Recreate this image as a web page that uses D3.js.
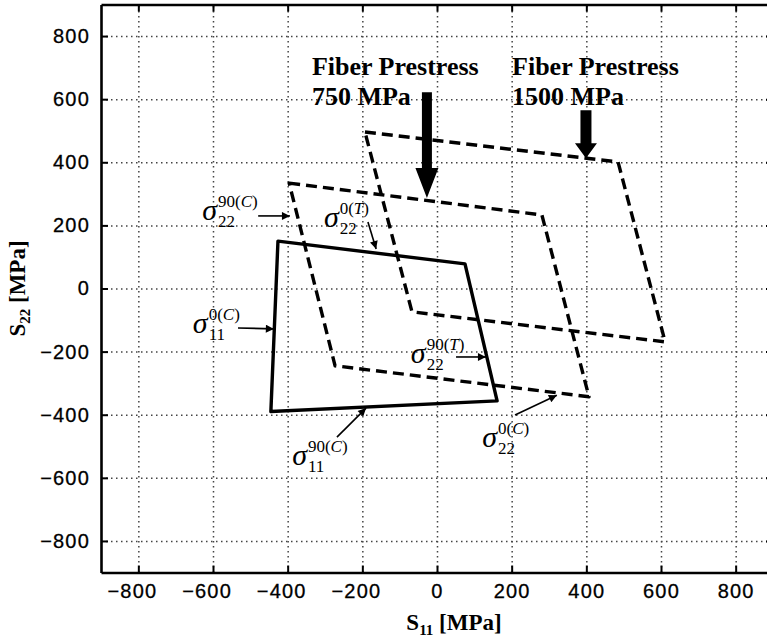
<!DOCTYPE html>
<html>
<head>
<meta charset="utf-8">
<script src="https://cdn.jsdelivr.net/npm/d3@7"></script>
<style>
  html, body { margin: 0; padding: 0; background: #fff; }
  svg { display: block; }
</style>
</head>
<body>
<svg id="chart" width="767" height="638"></svg>
<script>
// Failure envelopes in the S11–S22 stress plane (MPa)
const tickValues = [-800, -600, -400, -200, 0, 200, 400, 600, 800];
const axisDomain = [-900, 900];

// Envelope corners: [S11, S22]
const envelopeNoPrestress = [[-426, 150], [75, 78], [161, -356], [-445, -390]];
const envelope750 = [[-396, 334], [281, 233], [407, -343], [-273, -245]];
const envelope1500 = [[-193, 496], [485, 401], [611, -169], [-67, -74]];

// Prestress captions and the envelope points their arrows mark
const prestressTitles = ["Fiber Prestress", "Fiber Prestress"];
const prestressLevels = ["750 MPa", "1500 MPa"];
const prestressTips = [[-27, 287], [399, 413]];

// Failure-mode labels: subscript, superscript
const modeSubs = ["22", "22", "11", "22", "11", "22"];
const modeSups = ["90(C)", "0(T)", "0(C)", "90(T)", "90(C)", "0(C)"];

const svg = d3.select("#chart");
const x = d3.scaleLinear().domain(axisDomain).range([101, 773]);
const y = d3.scaleLinear().domain(axisDomain).range([572.5, 4.5]);

const plotL = x(axisDomain[0]), plotR = x(axisDomain[1]);
const plotT = y(axisDomain[1]), plotB = y(axisDomain[0]);

// Dotted grid
const grid = svg.append("g").attr("class", "grid");
grid.append("g")
  .attr("transform", `translate(0,${plotB})`)
  .call(d3.axisBottom(x).tickValues(tickValues).tickSize(-(plotB - plotT)).tickFormat(""))
  .call(g => g.select(".domain").remove());
grid.append("g")
  .attr("transform", `translate(${plotL},0)`)
  .call(d3.axisLeft(y).tickValues(tickValues).tickSize(-(plotR - plotL)).tickFormat(""))
  .call(g => g.select(".domain").remove());
grid.selectAll("line")
  .attr("stroke", "#444")
  .attr("stroke-width", 1.5)
  .attr("stroke-dasharray", "1.5,3.5");

// Envelopes
const line = d3.line().x(d => x(d[0])).y(d => y(d[1])).curve(d3.curveLinearClosed);
const env = svg.append("g").attr("fill", "none").attr("stroke", "#000").attr("stroke-linejoin", "round");
env.append("path").datum(envelope750).attr("d", line)
  .attr("stroke-width", 3.4).attr("stroke-dasharray", "11,6");
env.append("path").datum(envelope1500).attr("d", line)
  .attr("stroke-width", 3.4).attr("stroke-dasharray", "11,6");
env.append("path").datum(envelopeNoPrestress).attr("d", line)
  .attr("stroke-width", 3.4);

// Axes frame with inward ticks
const tickFont = "'Liberation Sans', Arial, sans-serif";
const axes = svg.append("g");
const axB = axes.append("g").attr("transform", `translate(0,${plotB})`)
  .call(d3.axisBottom(x).tickValues(tickValues).tickSize(-7).tickSizeOuter(0).tickPadding(11)
    .tickFormat(d => d < 0 ? "\u2212" + Math.abs(d) : String(d)));
const axL = axes.append("g").attr("transform", `translate(${plotL},0)`)
  .call(d3.axisLeft(y).tickValues(tickValues).tickSize(-7).tickSizeOuter(0).tickPadding(11)
    .tickFormat(d => d < 0 ? "\u2212" + Math.abs(d) : String(d)));
axes.append("g").attr("transform", `translate(0,${plotT})`)
  .call(d3.axisTop(x).tickValues(tickValues).tickSize(-7).tickSizeOuter(0).tickFormat(""));
axes.append("g").attr("transform", `translate(${plotR},0)`)
  .call(d3.axisRight(y).tickValues(tickValues).tickSize(-7).tickSizeOuter(0).tickFormat(""));
axes.selectAll(".domain").attr("stroke", "#000").attr("stroke-width", 2.6);
axes.selectAll(".tick line").attr("stroke", "#000").attr("stroke-width", 2);
axes.selectAll("text")
  .attr("font-family", tickFont).attr("font-size", 20).attr("letter-spacing", 1.2)
  .attr("fill", "#000").attr("stroke", "#000").attr("stroke-width", 0.3);

// Negative x labels: centre the digits on the tick, minus sign hangs to the left
axB.selectAll(".tick text").each(function(d) {
  if (d < 0) {
    const t = d3.select(this);
    t.text(String(Math.abs(d)));
    const w = this.getComputedTextLength();
    t.text("\u2212" + Math.abs(d)).attr("text-anchor", "end").attr("x", w / 2);
  }
});

// Axis titles
const serif = "'Liberation Serif', 'Times New Roman', serif";
const xTitle = svg.append("text")
  .attr("x", 454).attr("y", 630)
  .attr("text-anchor", "middle")
  .attr("font-family", serif).attr("font-weight", "bold").attr("font-size", 23);
xTitle.append("tspan").text("S");
xTitle.append("tspan").attr("font-size", 15).attr("dy", 5).text("11");
xTitle.append("tspan").attr("dy", -5).text(" [MPa]");

const yTitle = svg.append("text")
  .attr("transform", `translate(25,${(plotT + plotB) / 2}) rotate(-90)`)
  .attr("text-anchor", "middle")
  .attr("font-family", serif).attr("font-weight", "bold").attr("font-size", 23);
yTitle.append("tspan").text("S");
yTitle.append("tspan").attr("font-size", 15).attr("dy", 5).text("22");
yTitle.append("tspan").attr("dy", -5).text(" [MPa]");

// Prestress captions and block arrows
const captionAnchor = [[-335, 676], [201, 676]];
const captionGap = 30;
const arrowTailY = [622, 565];
const arrowShape = [{shaft: 10, headW: 23, headH: 30}, {shaft: 11, headW: 22, headH: 15}];

prestressTitles.forEach((title, i) => {
  const cx = x(captionAnchor[i][0]), cy = y(captionAnchor[i][1]);
  const t = svg.append("text")
    .attr("font-family", serif).attr("font-weight", "bold").attr("font-size", 26)
    .attr("fill", "#000");
  t.append("tspan").attr("x", cx).attr("y", cy).text(title);
  t.append("tspan").attr("x", cx).attr("y", cy + captionGap).text(prestressLevels[i]);

  const tx = x(prestressTips[i][0]), ty = y(prestressTips[i][1]);
  const tail = y(arrowTailY[i]);
  const s = arrowShape[i];
  const hy = ty - s.headH;
  svg.append("path")
    .attr("d", `M${tx - s.shaft / 2},${tail} L${tx + s.shaft / 2},${tail} L${tx + s.shaft / 2},${hy}` +
               ` L${tx + s.headW / 2},${hy} L${tx},${ty} L${tx - s.headW / 2},${hy}` +
               ` L${tx - s.shaft / 2},${hy} Z`)
    .attr("fill", "#000");
});

// Failure-mode labels with pointer arrows
const modeAnchor = [[-629, 217], [-303, 195], [-654, -141], [-70, -236], [-388, -559], [121, -502]];
const modeArrowFrom = [[-479, 230], [-185, 211], [-533, -125], [51, -217], [-268, -471], [209, -401]];
const modeArrowTo = [[-394, 230], [-163, 125], [-437, -128], [131, -217], [-190, -379], [321, -338]];

svg.append("defs").append("marker")
  .attr("id", "head")
  .attr("viewBox", "0 0 10 10").attr("refX", 10).attr("refY", 5)
  .attr("markerWidth", 10).attr("markerHeight", 8)
  .attr("markerUnits", "userSpaceOnUse")
  .attr("orient", "auto")
  .append("path").attr("d", "M0,0 L10,5 L0,10 Z").attr("fill", "#000");

modeSubs.forEach((sub, i) => {
  const ax = x(modeAnchor[i][0]), ay = y(modeAnchor[i][1]);
  const sig = svg.append("text")
    .attr("x", ax).attr("y", ay)
    .attr("font-family", serif).attr("font-style", "italic").attr("font-size", 30)
    .text("\u03c3");
  const sw = sig.node().getComputedTextLength();
  const sx = ax + sw + 1;
  const sp = svg.append("text")
    .attr("x", sx).attr("y", ay - 13)
    .attr("font-family", serif).attr("font-size", 17);
  modeSups[i].split("").forEach(ch => {
    sp.append("tspan").attr("font-style", /[A-Z]/.test(ch) ? "italic" : "normal").text(ch);
  });
  svg.append("text")
    .attr("x", sx).attr("y", ay + 7)
    .attr("font-family", serif).attr("font-size", 17)
    .text(sub);

  svg.append("line")
    .attr("x1", x(modeArrowFrom[i][0])).attr("y1", y(modeArrowFrom[i][1]))
    .attr("x2", x(modeArrowTo[i][0])).attr("y2", y(modeArrowTo[i][1]))
    .attr("stroke", "#000").attr("stroke-width", 1.6)
    .attr("marker-end", "url(#head)");
});
</script>
</body>
</html>
